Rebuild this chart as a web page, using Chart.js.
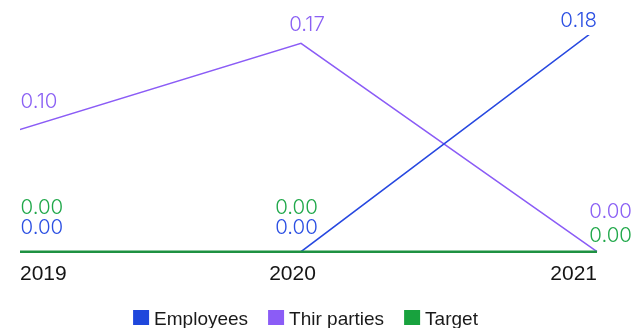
<!DOCTYPE html>
<html>
<head>
<meta charset="utf-8">
<script src="https://cdn.jsdelivr.net/npm/chart.js@4.4.1/dist/chart.umd.min.js"></script>
<style>
  html, body { margin: 0; padding: 0; background: #ffffff; }
  #wrap { width: 633px; height: 328px; }
</style>
</head>
<body>
<div id="wrap"><canvas id="c" width="633" height="328"></canvas></div>
<script>
// ---- data ----
const years = [2019, 2020, 2021];
const tickLabels = ['2019', '2020', '2021'];
const seriesNames = ['Employees', 'Thir parties', 'Target'];
const employees = [0, 0, 0.182];
const thirdParties = [0.096, 0.17, 0];
const target = [0, 0, 0];

// ---- styles ----
const lineColors = ['#2748e0', '#8b5cf6', '#1e9142'];
const labelColors = ['#2b4fe3', '#8a60f4', '#20a84a'];
const legendColors = ['#1f47dc', '#8b5cf6', '#18a23e'];
const lineWidths = [1.5, 1.5, 2.5];

// label placement (alignment + offset from the point, baseline-relative)
const labelLayout = [
  [{ align: 'left', dx: 15.5, dy: -18 }, { align: 'center', dx: -4.5, dy: -18 }, { align: 'right', dx: 0, dy: -2 }],
  [{ align: 'left', dx: 15.5, dy: -26.3 }, { align: 'center', dx: 6, dy: -12.3 }, { align: 'right', dx: 35, dy: -33.4 }],
  [{ align: 'left', dx: 15.5, dy: -37.7 }, { align: 'center', dx: -4.5, dy: -37.7 }, { align: 'right', dx: 35, dy: -10 }]
];
// x tick label placement
const tickLayout = [
  { align: 'left', dx: 15 }, { align: 'center', dx: -8.5 }, { align: 'right', dx: 0 }
];

const seriesValues = [employees, thirdParties, target];

const datasets = seriesValues.map((vals, i) => ({
  label: seriesNames[i],
  data: years.map((y, j) => ({ x: y, y: vals[j] })),
  borderColor: lineColors[i],
  backgroundColor: legendColors[i],
  borderWidth: lineWidths[i],
  pointRadius: 0,
  pointHoverRadius: 0,
  tension: 0,
  fill: false,
  order: i === 2 ? 0 : 1,
  clip: { left: 0, top: 0, right: 6, bottom: 6 }
}));

const labelPlugin = {
  id: 'valueLabels',
  afterDatasetsDraw(chart) {
    const ctx = chart.ctx;
    ctx.save();
    ctx.font = '300 20.5px Inter, "Liberation Sans", sans-serif';
    ctx.textBaseline = 'alphabetic';
    chart.data.datasets.forEach((ds, i) => {
      const meta = chart.getDatasetMeta(i);
      meta.data.forEach((pt, j) => {
        const lay = labelLayout[i][j];
        ctx.fillStyle = labelColors[i];
        ctx.textAlign = lay.align;
        ctx.fillText(seriesValues[i][j].toFixed(2), pt.x + lay.dx, pt.y + lay.dy);
      });
    });
    ctx.restore();
  }
};

const axisPlugin = {
  id: 'xTicks',
  afterDraw(chart) {
    const ctx = chart.ctx;
    const xs = chart.scales.x;
    const area = chart.chartArea;
    ctx.save();
    ctx.font = '21px "Liberation Sans", Arial, sans-serif';
    ctx.fillStyle = '#141414';
    ctx.textBaseline = 'alphabetic';
    years.forEach((y, j) => {
      const lay = tickLayout[j];
      ctx.textAlign = lay.align;
      ctx.fillText(tickLabels[j], xs.getPixelForValue(y) + lay.dx, area.bottom + 28.3);
    });

    // legend
    ctx.font = '19px "Liberation Sans", Arial, sans-serif';
    const boxW = 16, boxH = 15, gap = 5, sep = 20;
    const widths = seriesNames.map(n => boxW + gap + ctx.measureText(n).width);
    const total = widths.reduce((a, b) => a + b, 0) + sep * (widths.length - 1);
    let x = (area.left + area.right) / 2 - total / 2 - 3;
    const baseY = 325;
    ctx.textAlign = 'left';
    seriesNames.forEach((n, i) => {
      ctx.fillStyle = legendColors[i];
      ctx.fillRect(x, baseY - boxH, boxW, boxH);
      ctx.fillStyle = '#1a1a1a';
      ctx.fillText(n, x + boxW + gap, baseY);
      x += widths[i] + sep;
    });
    ctx.restore();
  }
};

new Chart(document.getElementById('c'), {
  type: 'line',
  data: { datasets },
  options: {
    responsive: false,
    animation: false,
    devicePixelRatio: 1,
    layout: { padding: { left: 20, right: 36, top: 35, bottom: 76.3 } },
    plugins: { legend: { display: false }, tooltip: { enabled: false } },
    scales: {
      x: { type: 'linear', min: 2019 + 15 / 296, max: 2021, display: false },
      y: { type: 'linear', min: 0, max: 0.1768, display: false }
    }
  },
  plugins: [labelPlugin, axisPlugin]
});
</script>
</body>
</html>
